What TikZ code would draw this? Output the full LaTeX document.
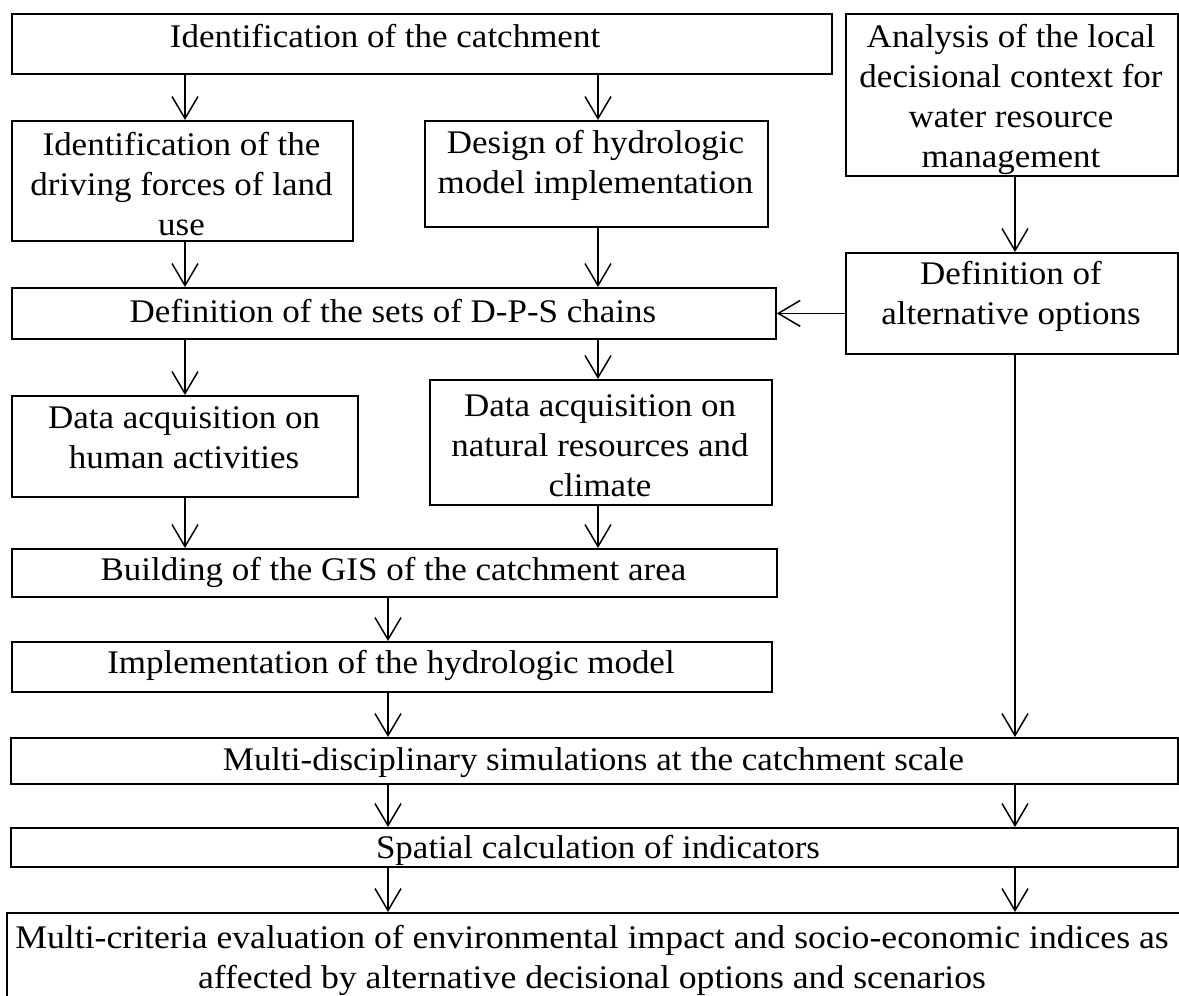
\documentclass[tikz,border=0pt]{standalone}
\usepackage{fontspec}
\setmainfont{Liberation Serif}[FakeStretch=1.06]
\usetikzlibrary{arrows.meta}
\newcommand{\ml}[1]{\begin{tabular}[t]{@{}c@{}}#1\end{tabular}}
\begin{document}
\begin{tikzpicture}[x=1pt,y=-1pt,
  box/.style={draw, line width=1.8pt, inner sep=0pt, anchor=north west},
  lbl/.style={anchor=base, inner sep=0pt, font=\fontsize{33}{40}\selectfont},
  arr/.style={line width=1.5pt, -{Straight Barb[length=22pt,width=26pt,line width=1.5pt]}}]
\useasboundingbox[fill=white] (0,0) rectangle (1179,996);
% boxes
\node[box, minimum width=820pt, minimum height=60pt]  (b1)  at (11,13)  {};
\node[box, minimum width=332pt, minimum height=162pt] (b2)  at (845,13) {};
\node[box, minimum width=341pt, minimum height=120pt] (b3)  at (11,120) {};
\node[box, minimum width=343pt, minimum height=106pt] (b4)  at (424,120) {};
\node[box, minimum width=764pt, minimum height=51pt]  (b5)  at (11,287) {};
\node[box, minimum width=332pt, minimum height=101pt] (b6)  at (845,252) {};
\node[box, minimum width=346pt, minimum height=101pt] (b7)  at (11,395) {};
\node[box, minimum width=342pt, minimum height=125pt] (b8)  at (429,379) {};
\node[box, minimum width=765pt, minimum height=48pt]  (b9)  at (11,548) {};
\node[box, minimum width=760pt, minimum height=50pt]  (b10) at (11,641) {};
\node[box, minimum width=1167pt, minimum height=46pt] (b11) at (10,737) {};
\node[box, minimum width=1167pt, minimum height=39pt] (b12) at (10,827) {};
\node[box, minimum width=1190pt, minimum height=100pt] (b13) at (6,912) {};
% texts
\node[lbl] (t1)  at (385,47)    {Identification of the catchment};
\node[lbl] (t2)  at (1011,47)   {\ml{Analysis of the local\\decisional context for\\water resource\\management}};
\node[lbl] (t3)  at (181.5,155) {\ml{Identification of the\\driving forces of land\\use}};
\node[lbl] (t4)  at (595.5,153) {\ml{Design of hydrologic\\model implementation}};
\node[lbl] (t5)  at (393,322)   {Definition of the sets of D-P-S chains};
\node[lbl] (t6)  at (1011,284)  {\ml{Definition of\\alternative options}};
\node[lbl] (t7)  at (184,428)   {\ml{Data acquisition on\\human activities}};
\node[lbl] (t8)  at (600,416)   {\ml{Data acquisition on\\natural resources and\\climate}};
\node[lbl] (t9)  at (393.5,580) {Building of the GIS of the catchment area};
\node[lbl] (t10) at (391,673)   {Implementation of the hydrologic model};
\node[lbl] (t11) at (593.5,770) {Multi-disciplinary simulations at the catchment scale};
\node[lbl] (t12) at (598,858)   {Spatial calculation of indicators};
\node[lbl] (t13) at (592,948)   {\scalebox{1.02}[1]{\ml{Multi-criteria evaluation of environmental impact and socio-economic indices as\\affected by alternative decisional options and scenarios}}};
% column coordinates
\coordinate (cL) at (185,0);
\coordinate (cM) at (598,0);
\coordinate (cR) at (1015,0);
\coordinate (cC) at (388,0);
% connectors
\draw[arr] (b1.south -| cL) -- (b3.north -| cL);
\draw[arr] (b1.south -| cM) -- (b4.north -| cM);
\draw[arr] (b2.south -| cR) -- (b6.north -| cR);
\draw[arr] (b3.south -| cL) -- (b5.north -| cL);
\draw[arr] (b4.south -| cM) -- (b5.north -| cM);
\draw[arr] (b6.west |- b5.east) -- (b5.east);
\draw[arr] (b5.south -| cL) -- (b7.north -| cL);
\draw[arr] (b5.south -| cM) -- (b8.north -| cM);
\draw[arr] (b7.south -| cL) -- (b9.north -| cL);
\draw[arr] (b8.south -| cM) -- (b9.north -| cM);
\draw[arr] (b9.south -| cC) -- (b10.north -| cC);
\draw[arr] (b10.south -| cC) -- (b11.north -| cC);
\draw[arr] (b6.south -| cR) -- (b11.north -| cR);
\draw[arr] (b11.south -| cC) -- (b12.north -| cC);
\draw[arr] (b11.south -| cR) -- (b12.north -| cR);
\draw[arr] (b12.south -| cC) -- (b13.north -| cC);
\draw[arr] (b12.south -| cR) -- (b13.north -| cR);
\end{tikzpicture}
\end{document}
